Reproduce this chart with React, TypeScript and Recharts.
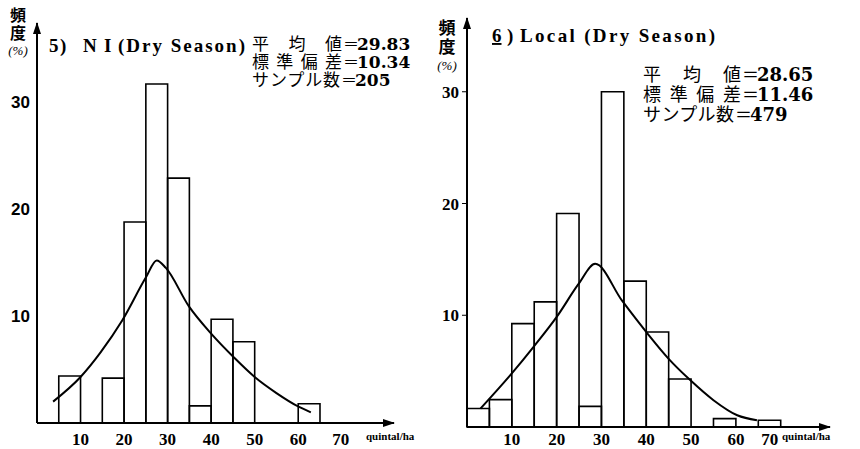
import { ComposedChart, Line, ReferenceArea, XAxis, YAxis } from "recharts";

const BIN_WIDTH = 5;
const xTicks = [10, 20, 30, 40, 50, 60, 70];
const yTicks = [10, 20, 30];

// 5) NI (Dry Season)
const niBinStarts = [5, 15, 20, 25, 30, 35, 40, 45, 60];
const niFreq = [4.4, 4.2, 18.8, 31.7, 22.9, 1.6, 9.7, 7.6, 1.8];
const niCurveX = [3.7, 10, 14.6, 19.6, 25, 27.5, 29.6, 34.9, 39.9, 45.3, 50, 55, 60.2, 62.9];
const niCurveY = [2.0, 4.3, 6.6, 9.6, 13.6, 15.2, 14.5, 10.9, 8.4, 6.1, 4.3, 2.8, 1.5, 1.0];
const niStats = ["29.83", "10.34", "205"];

// 6) Local (Dry Season)
const localBinStarts = [0, 5, 10, 15, 20, 25, 30, 35, 40, 45, 55, 65];
const localFreq = [1.65, 2.45, 9.25, 11.2, 19.1, 1.85, 30.0, 13.05, 8.5, 4.3, 0.75, 0.6];
const localCurveX = [3, 10, 14.9, 20.1, 24.9, 28.6, 34.6, 40.2, 45, 49.8, 55, 60.3, 64.7];
const localCurveY = [1.65, 4.8, 7.2, 9.9, 12.8, 14.6, 11.3, 8.4, 6.1, 4.2, 2.4, 1.05, 0.6];
const localStats = ["28.65", "11.46", "479"];

const statLabels = ["平　均　値", "標準偏差", "サンプル数"];

const serif = "'Liberation Serif', 'DejaVu Serif', serif";
const wideSerif = "'DejaVu Serif', serif";
const cjk = "'Noto Sans CJK JP', sans-serif";

type HistProps = {
  id: string;
  width: number;
  left: number;
  yAxisWidth: number;
  top: number;
  right: number;
  xAxisHeight: number;
  xMax: number;
  yMax: number;
  binStarts: number[];
  freq: number[];
  curveX: number[];
  curveY: number[];
  yTickLine: boolean;
  yTickFamily: string;
  xTickMargin: number;
  lastTickShift: number;
};

function Histogram(p: HistProps) {
  const data = p.curveX.map((x, i) => ({ x, y: p.curveY[i] }));
  const renderXTick = (t: any) => {
    const last = t.payload.value === xTicks[xTicks.length - 1];
    return (
      <text
        x={t.x + (last ? p.lastTickShift : 0)}
        y={t.y}
        dy="0.71em"
        textAnchor="middle"
        fill="#000"
        fontSize={17}
        fontWeight={700}
        fontFamily={serif}
      >
        {t.payload.value}
      </text>
    );
  };
  return (
    <div style={{ position: "absolute", left: p.left, top: 0 }}>
      <ComposedChart width={p.width} height={449} data={data} margin={{ top: p.top, right: p.right, bottom: 0, left: 0 }}>
        <defs>
          <marker id={`${p.id}-arrow`} markerUnits="userSpaceOnUse" markerWidth={12} markerHeight={8} refX={11} refY={4} orient="auto-start-reverse">
            <path d="M0,0 L12,4 L0,8 z" fill="#000" />
          </marker>
        </defs>
        <XAxis
          type="number"
          dataKey="x"
          domain={[0, p.xMax]}
          ticks={xTicks}
          height={p.xAxisHeight}
          allowDataOverflow
          tickLine={false}
          tickSize={0}
          tickMargin={p.xTickMargin}
          axisLine={{ stroke: "#000", strokeWidth: 2, markerEnd: `url(#${p.id}-arrow)` }}
          tick={renderXTick}
        />
        <YAxis
          type="number"
          domain={[0, p.yMax]}
          ticks={yTicks}
          width={p.yAxisWidth}
          allowDataOverflow
          tickLine={p.yTickLine ? { stroke: "#000", strokeWidth: 1 } : false}
          tickSize={p.yTickLine ? 5 : 0}
          tickMargin={p.yTickLine ? 3 : 7}
          axisLine={{ stroke: "#000", strokeWidth: 2, markerStart: `url(#${p.id}-arrow)` }}
          tick={{ fill: "#000", fontSize: 17, fontWeight: 700, fontFamily: p.yTickFamily }}
        />
        {p.binStarts.map((s, i) => (
          <ReferenceArea
            key={s}
            x1={s}
            x2={s + BIN_WIDTH}
            y1={0}
            y2={p.freq[i]}
            ifOverflow="visible"
            fill="#fff"
            fillOpacity={0}
            stroke="#000"
            strokeWidth={1.6}
            strokeOpacity={1}
          />
        ))}
        <Line type="monotone" dataKey="y" stroke="#000" strokeWidth={2} dot={false} activeDot={false} isAnimationActive={false} />
      </ComposedChart>
    </div>
  );
}

type StatProps = {
  x: number;
  ys: number[];
  labelW: number[];
  values: string[];
  size: number;
  eqW: number;
};

function StatLines({ x, ys, labelW, values, size, eqW }: StatProps) {
  return (
    <>
      {statLabels.map((lab, i) => (
        <g key={lab}>
          <text x={x} y={ys[i]} fontSize={size} fontFamily={cjk} textLength={labelW[i]} lengthAdjust="spacing" fill="#000">
            {lab}
          </text>
          <text x={x + labelW[i] + 1} y={ys[i]} fontSize={size - 1} fontFamily={cjk} fill="#000">＝</text>
          <text x={x + labelW[i] + eqW} y={ys[i]} fontSize={size} fontWeight={700} fontFamily={wideSerif} fill="#000">
            {values[i]}
          </text>
        </g>
      ))}
    </>
  );
}

function AxisTitle({ cx, y0, gap, size }: { cx: number; y0: number; gap: number; size: number }) {
  return (
    <>
      <text x={cx} y={y0} textAnchor="middle" fontSize={size} fontWeight={700} fontFamily={cjk} fill="#000">頻</text>
      <text x={cx} y={y0 + gap} textAnchor="middle" fontSize={size} fontWeight={700} fontFamily={cjk} fill="#000">度</text>
      <text x={cx} y={y0 + gap * 2 - 2} textAnchor="middle" fontSize={13} fontFamily={serif} fontStyle="italic" fill="#000">(%)</text>
    </>
  );
}

export default function App() {
  return (
    <div style={{ position: "absolute", left: 0, top: 0, width: 860, height: 449, background: "#fff", overflow: "hidden" }}>
      <Histogram
        id="ni"
        left={0}
        width={430}
        yAxisWidth={37}
        top={23}
        right={36}
        xAxisHeight={26}
        xMax={82}
        yMax={37.4}
        binStarts={niBinStarts}
        freq={niFreq}
        curveX={niCurveX}
        curveY={niCurveY}
        yTickLine={false}
        yTickFamily="'Liberation Sans', Arial, sans-serif"
        xTickMargin={10}
        lastTickShift={-1}
      />
      <Histogram
        id="local"
        left={430}
        width={430}
        yAxisWidth={37}
        top={18}
        right={30}
        xAxisHeight={22}
        xMax={81}
        yMax={36.6}
        binStarts={localBinStarts}
        freq={localFreq}
        curveX={localCurveX}
        curveY={localCurveY}
        yTickLine={true}
        yTickFamily={serif}
        xTickMargin={6}
        lastTickShift={-11}
      />
      <svg width={860} height={449} style={{ position: "absolute", left: 0, top: 0, pointerEvents: "none" }}>
        <AxisTitle cx={18} y0={21} gap={18} size={16} />
        <AxisTitle cx={447} y0={34} gap={19} size={17} />

        <text x={49} y={52} fontSize={19} fontWeight={700} fontFamily={serif} fill="#000">5</text>
        <text x={60} y={52} fontSize={19} fontWeight={700} fontFamily={serif} fill="#000">)</text>
        <text x={83} y={52} fontSize={19} fontWeight={700} fontFamily={serif} fill="#000">N</text>
        <text x={104} y={52} fontSize={19} fontWeight={700} fontFamily={serif} fill="#000">I</text>
        <text x={118} y={52} fontSize={19} fontWeight={700} fontFamily={serif} textLength={127} lengthAdjust="spacing" fill="#000">(Dry Season)</text>

        <text x={492} y={42} fontSize={19} fontWeight={700} fontFamily={serif} fill="#000" textDecoration="underline">6</text>
        <text x={507} y={42} fontSize={19} fontWeight={700} fontFamily={serif} fill="#000">)</text>
        <text x={520} y={42} fontSize={19} fontWeight={700} fontFamily={serif} textLength={195} lengthAdjust="spacing" fill="#000">Local (Dry Season)</text>

        <StatLines x={252} ys={[50, 68, 86]} labelW={[90, 90, 88]} values={niStats} size={17} eqW={15} />
        <StatLines x={643} ys={[81, 101, 121]} labelW={[98, 98, 91]} values={localStats} size={18} eqW={16} />

        <text x={366} y={440} fontSize={11} fontWeight={700} fontFamily={serif} fill="#000">quintal/ha</text>
        <text x={782} y={440} fontSize={11} fontWeight={700} fontFamily={serif} fill="#000">quintal/ha</text>
      </svg>
    </div>
  );
}
